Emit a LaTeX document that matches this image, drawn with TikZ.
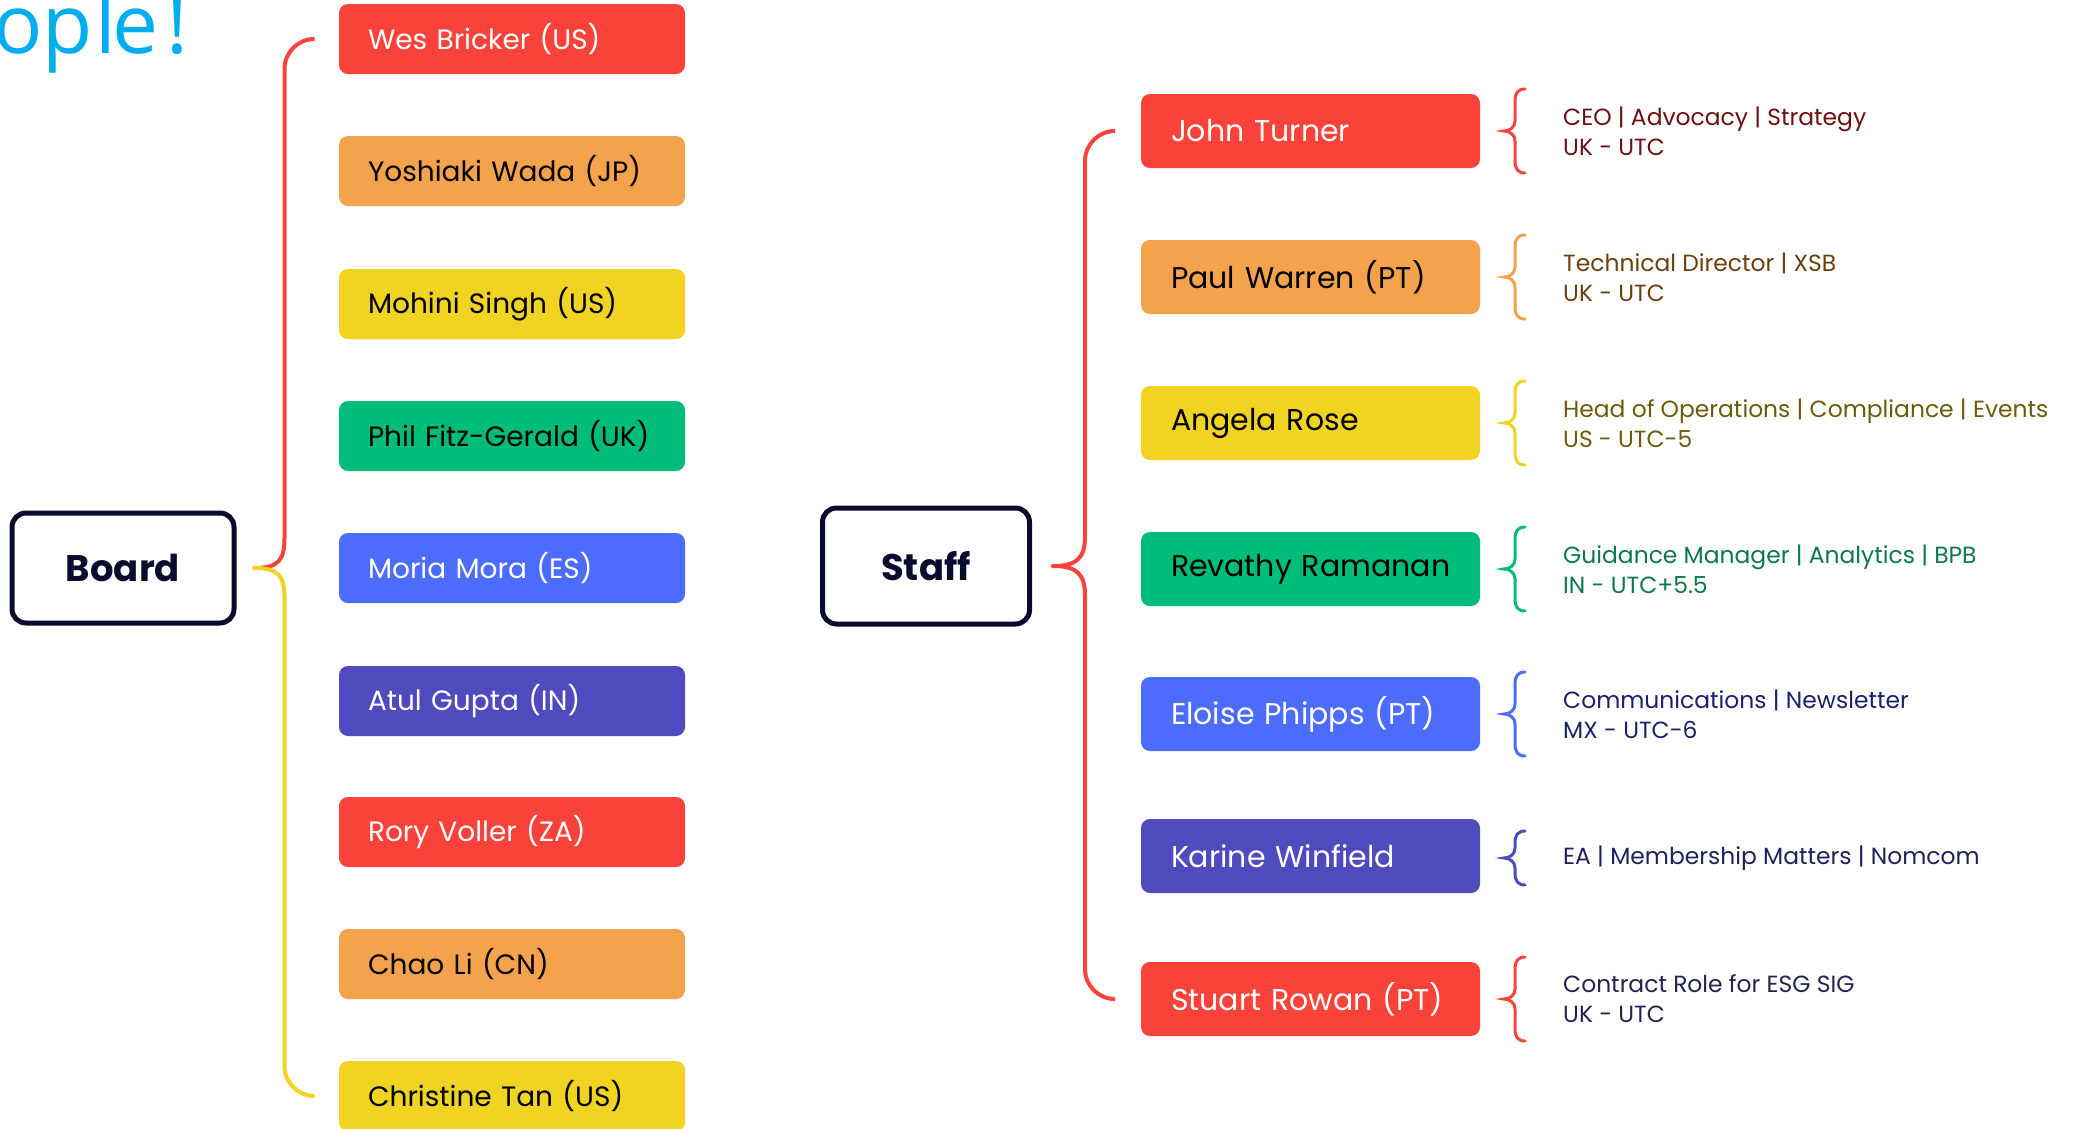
\documentclass[tikz,border=0pt]{standalone}
\usepackage{fontspec}
\setmainfont{Poppins}
\newfontfamily\titlefont{Open Sans}
\usetikzlibrary{calc}

\definecolor{cRed}{HTML}{F9423A}
\definecolor{cOrange}{HTML}{F5A24D}
\definecolor{cYellow}{HTML}{F1D322}
\definecolor{cGreen}{HTML}{00BC7B}
\definecolor{cBlue}{HTML}{4B6CFD}
\definecolor{cIndigo}{HTML}{4F4ABE}
\definecolor{cNavy}{HTML}{0B0B2E}
\definecolor{cSky}{HTML}{00AEEF}
\definecolor{dRed}{HTML}{6E1010}
\definecolor{dOrange}{HTML}{6B3F0C}
\definecolor{dYellow}{HTML}{6B5C0A}
\definecolor{dGreen}{HTML}{0B7A48}
\definecolor{dBlue}{HTML}{1B216E}
\definecolor{dIndigo}{HTML}{20205F}
\definecolor{dDark}{HTML}{23234F}

\tikzset{
  oneline/.style={execute at begin node={\hbox\bgroup}, execute at end node={\egroup}},
  member/.style={rounded corners=9pt, minimum height=70pt, text width=288pt,
    inner xsep=29pt, inner ysep=0pt, align=left, oneline,
    font=\fontsize{28}{34}\selectfont},
  staffer/.style={rounded corners=9pt, minimum height=74pt, text width=279pt,
    inner xsep=30pt, inner ysep=0pt, align=left, oneline,
    font=\fontsize{30}{36}\selectfont},
  group/.style={draw=cNavy, line width=5pt, rounded corners=14pt, fill=white,
    font=\bfseries\fontsize{37}{44}\selectfont, text=cNavy},
  desc/.style={anchor=west, align=left, inner sep=0pt,
    font=\fontsize{23.4}{30}\selectfont},
  link/.style={line width=4pt, line cap=round},
  bracepen/.style={line width=3pt, line cap=round},
}

% curly brace with its tip at #2, half height #3
\newcommand\rolebrace[3]{%
  \draw[bracepen,#1] ($(#2)+(21,-#3)$)
    .. controls ($(#2)+(14,-#3)$) and ($(#2)+(11,-#3+4)$) .. ($(#2)+(11,-#3+12)$)
    -- ($(#2)+(11,-10)$)
    .. controls ($(#2)+(11,-4)$) and ($(#2)+(6,0)$) .. (#2)
    .. controls ($(#2)+(6,0)$) and ($(#2)+(11,4)$) .. ($(#2)+(11,10)$)
    -- ($(#2)+(11,#3-12)$)
    .. controls ($(#2)+(11,#3-4)$) and ($(#2)+(14,#3)$) .. ($(#2)+(21,#3)$);
}

\begin{document}
\begin{tikzpicture}[x=1pt,y=-1pt]
\useasboundingbox (0,0) rectangle (2075,1128);

% heading tail
\node[anchor=base west, inner sep=0pt, text=cSky,
  font=\titlefont\fontsize{82}{82}\selectfont] (title) at (-7,53)
  {op\kern3pt l\kern-4.5pt e\kern8pt !};

% ---------------- Board ----------------
\node[group, minimum width=222pt, minimum height=110pt] (board) at (123,568) {Board};

\node[member, fill=cRed,    text=white] (wes)   at (512,39)   {Wes Bricker (US)};
\node[member, fill=cOrange, text=black] (yosh)  at (512,171)  {Yoshiaki Wada (JP)};
\node[member, fill=cYellow, text=black] (moh)   at (512,304)  {Mohini Singh (US)};
\node[member, fill=cGreen,  text=black] (phil)  at (512,436)  {Phil Fitz-Gerald (UK)};
\node[member, fill=cBlue,   text=white] (moria) at (512,568)  {Moria Mora (ES)};
\node[member, fill=cIndigo, text=white] (atul)  at (512,701)  {Atul Gupta (IN)};
\node[member, fill=cRed,    text=white] (rory)  at (512,832)  {Rory Voller (ZA)};
\node[member, fill=cOrange, text=black] (chao)  at (512,964)  {Chao Li (CN)};
\node[member, fill=cYellow, text=black] (chris) at (512,1096) {Christine Tan (US)};

\coordinate (bj) at ([xshift=18pt]board.east);
\coordinate (bt) at ([xshift=48pt]board.east);
\draw[link, cRed] (bj) .. controls +(24,0) and +(0,22) .. ($(bt)+(0,-30)$)
  [rounded corners=30pt] -- (bt |- wes) -- ([xshift=-27pt]wes.west);
\draw[link, cYellow] (bj) .. controls +(24,0) and +(0,-22) .. ($(bt)+(0,30)$)
  [rounded corners=30pt] -- (bt |- chris) -- ([xshift=-27pt]chris.west);

% ---------------- Staff ----------------
\node[group, minimum width=207pt, minimum height=116pt] (staff) at (926,566) {Staff};

\node[staffer, fill=cRed,    text=white] (john)  at (1310.5,131) {John Turner};
\node[staffer, fill=cOrange, text=black] (paul)  at (1310.5,277) {Paul Warren (PT)};
\node[staffer, fill=cYellow, text=black] (ang)   at (1310.5,423) {Angela Rose};
\node[staffer, fill=cGreen,  text=black] (rev)   at (1310.5,569) {Revathy Ramanan};
\node[staffer, fill=cBlue,   text=white] (elo)   at (1310.5,714) {Eloise Phipps (PT)};
\node[staffer, fill=cIndigo, text=white] (kar)   at (1310.5,856) {Karine Winfield};
\node[staffer, fill=cRed,    text=white] (stu)   at (1310.5,999) {Stuart Rowan (PT)};

\coordinate (sj) at ([xshift=21pt]staff.east);
\coordinate (st) at ([xshift=53pt]staff.east);
\draw[link, cRed] (sj) .. controls +(24,0) and +(0,22) .. ($(st)+(0,-30)$)
  [rounded corners=30pt] -- (st |- john) -- ([xshift=-27pt]john.west);
\draw[link, cRed] (sj) .. controls +(24,0) and +(0,-22) .. ($(st)+(0,30)$)
  [rounded corners=30pt] -- (st |- stu) -- ([xshift=-27pt]stu.west);

% ---------------- Roles ----------------
\node[desc, text=dRed]    (johnd) at (1563,131) {CEO | Advocacy | Strategy\\UK - UTC};
\node[desc, text=dOrange] (pauld) at (1563,277) {Technical Director | XSB\\UK - UTC};
\node[desc, text=dYellow] (angd)  at (1563,423) {Head of Operations | Compliance | Events\\US - UTC-5};
\node[desc, text=dGreen]  (revd)  at (1563,569) {Guidance Manager | Analytics | BPB\\IN - UTC+5.5};
\node[desc, text=dBlue]   (elod)  at (1563,714) {Communications | Newsletter\\MX - UTC-6};
\node[desc, text=dIndigo] (kard)  at (1563,858) {EA | Membership Matters | Nomcom};
\node[desc, text=dDark]   (stud)  at (1563,999) {Contract Role for ESG SIG\\UK - UTC};

\coordinate (johnb) at ([xshift=-59pt]johnd.west);
\coordinate (paulb) at ([xshift=-59pt]pauld.west);
\coordinate (angb)  at ([xshift=-59pt]angd.west);
\coordinate (revb)  at ([xshift=-59pt]revd.west);
\coordinate (elob)  at ([xshift=-59pt]elod.west);
\coordinate (karb)  at ([xshift=-59pt]kard.west);
\coordinate (stub)  at ([xshift=-59pt]stud.west);
\rolebrace{cRed}{johnb}{42}
\rolebrace{cOrange}{paulb}{42}
\rolebrace{cYellow}{angb}{42}
\rolebrace{cGreen}{revb}{42}
\rolebrace{cBlue}{elob}{42}
\rolebrace{cIndigo}{karb}{27}
\rolebrace{cRed}{stub}{42}
\end{tikzpicture}
\end{document}
